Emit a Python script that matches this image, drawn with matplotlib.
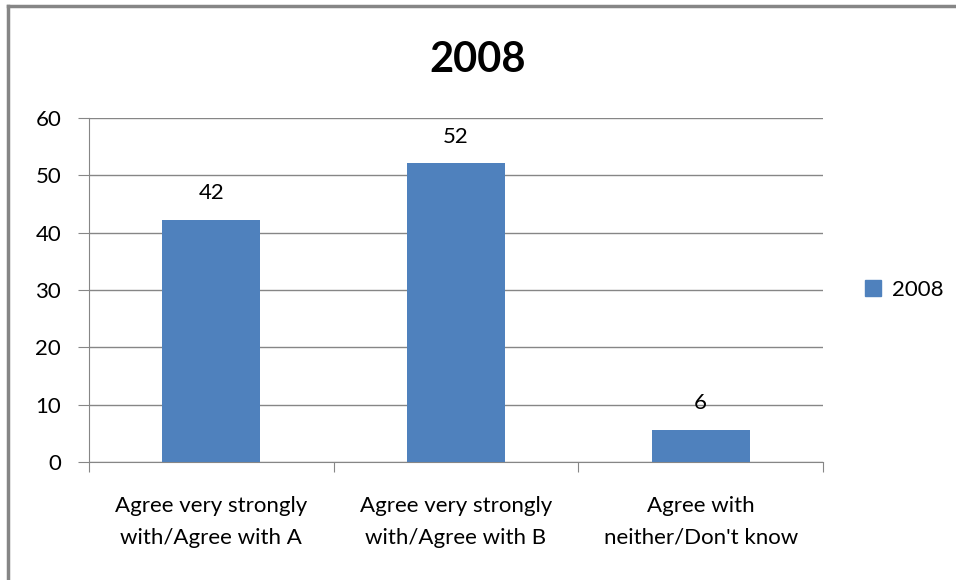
import matplotlib.pyplot as plt
from matplotlib.lines import Line2D
from matplotlib.patches import Patch

categories = ["Agree very strongly\nwith/Agree with A",
              "Agree very strongly\nwith/Agree with B",
              "Agree with\nneither/Don't know"]
values = [42.2, 52.1, 5.6]
series = "2008"
yticks = [0, 10, 20, 30, 40, 50, 60]

plt.rcParams['font.family'] = ['Lato', 'DejaVu Sans']
grey = '#868686'
blue = '#4F81BD'

fig = plt.figure(figsize=(9.56, 5.8), dpi=100)
ax = fig.add_axes([89/956, 1-462/580, 734/956, 344/580])

x = range(len(categories))
ax.bar(x, values, width=0.4, color=blue, zorder=3, label=series)
for xi, v in zip(x, values):
    ax.annotate("%.0f" % v, (xi, v), xytext=(0, 12), textcoords='offset points',
                ha='center', va='bottom', fontsize=16, zorder=4)

ax.set_xlim(-0.5, 2.5)
ax.set_ylim(0, 60)
ax.set_yticks(yticks)
ax.yaxis.grid(True, color=grey, lw=1)
ax.set_axisbelow(True)
ax.tick_params(axis='y', length=8, color=grey, labelsize=16, pad=12)
ax.set_xticks([-0.5, 0.5, 1.5, 2.5])
ax.set_xticklabels([])
ax.tick_params(axis='x', length=7, color=grey)
for xi, c in zip(x, categories):
    ax.text(xi, -5.9, c, ha='center', va='top', fontsize=16, linespacing=1.75)
for s in ['top', 'right']:
    ax.spines[s].set_visible(False)
for s in ['left', 'bottom']:
    ax.spines[s].set_color(grey)

fig.text(0.5, 1-60/580, "2008", ha='center', va='center', fontsize=30, fontweight='bold')

ax.legend(handles=[Patch(color=blue, label=series)], loc='center left',
          bbox_to_anchor=(1.03, 0.5), frameon=False, fontsize=16,
          handlelength=0.7, handleheight=0.7, handletextpad=0.5)

# outer chart frame
fig.add_artist(Line2D([8/956, 8/956], [0, 1-6/580], color=grey, lw=2.5))
fig.add_artist(Line2D([8/956, 1], [1-6/580, 1-6/580], color=grey, lw=2.5))

fig.savefig('out.png', dpi=100)
